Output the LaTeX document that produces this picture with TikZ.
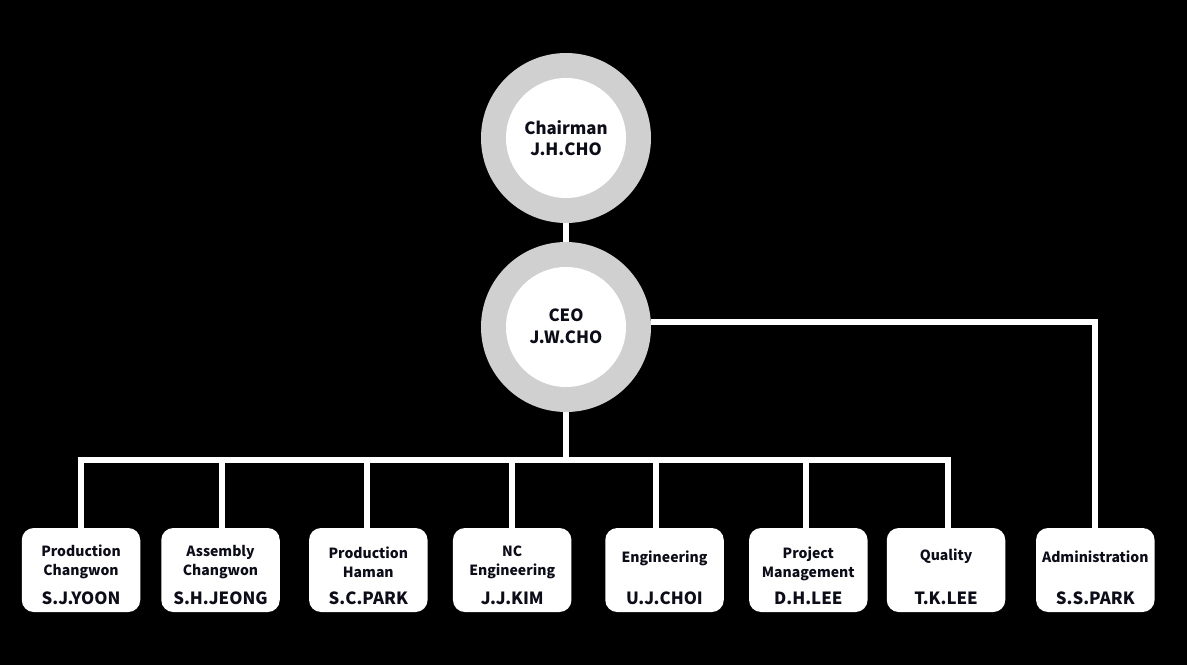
\documentclass[tikz,border=0pt]{standalone}
\usepackage{fontspec}
\setmainfont{Noto Sans CJK KR}
\usetikzlibrary{backgrounds}
\definecolor{ringgray}{HTML}{D0D0D0}
\definecolor{ink}{HTML}{0D0D1A}
\begin{document}
\begin{tikzpicture}[x=1pt,y=-1pt,
  conn/.style={draw=white, line width=6pt},
  ring/.style={circle, fill=ringgray, minimum size=170pt, inner sep=0pt},
  core/.style={circle, fill=white, minimum size=120pt, inner sep=0pt},
  box/.style={rounded corners=12pt, fill=white, minimum width=118.5pt, minimum height=84pt, inner sep=0pt},
  ttl/.style={font=\bfseries\fontsize{14}{16}\selectfont, text=ink, anchor=base, inner sep=0pt},
  nm/.style={font=\bfseries\fontsize{16.8}{19}\selectfont, text=ink, anchor=base, inner sep=0pt},
  big/.style={font=\bfseries\fontsize{16.8}{19}\selectfont, text=ink, anchor=base, inner sep=0pt}]
\useasboundingbox (0,0) rectangle (1187,665);

% circles
\node[ring] (chair) at (566,138) {};
\node[core] (chairin) at (566,138) {};
\node[big] (chairt) at (566,134) {Chairman};
\node[big] (chairn) at (566,155.7) {J.H.CHO};

\node[ring] (ceo) at (566,327) {};
\node[core] (ceoin) at (566,327) {};
\node[big] (ceot) at (566,321.7) {CEO};
\node[big] (ceon) at (566,343.7) {J.W.CHO};

% boxes
\node[box] (b1) at (81,570) {};
\node[box] (b2) at (220.5,570) {};
\node[box] (b3) at (368.3,570) {};
\node[box] (b4) at (512.2,570) {};
\node[box] (b5) at (664.5,570) {};
\node[box] (b6) at (808.3,570) {};
\node[box] (b7) at (946,570) {};
\node[box] (b8) at (1095.3,570) {};

\node[ttl] (b1a) at (81,556) {Production};
\node[ttl] (b1b) at (81,575) {Changwon};
\node[nm]  (b1n) at (81,604) {S.J.YOON};

\node[ttl] (b2a) at (220.5,556) {Assembly};
\node[ttl] (b2b) at (220.5,575) {Changwon};
\node[nm]  (b2n) at (220.5,604) {S.H.JEONG};

\node[ttl] (b3a) at (368.3,558) {Production};
\node[ttl] (b3b) at (368.3,577) {Haman};
\node[nm]  (b3n) at (368.3,604) {S.C.PARK};

\node[ttl] (b4a) at (512.2,556) {NC};
\node[ttl] (b4b) at (512.2,575) {Engineering};
\node[nm]  (b4n) at (512.2,604) {J.J.KIM};

\node[ttl] (b5a) at (664.5,562) {Engineering};
\node[nm]  (b5n) at (664.5,604) {U.J.CHOI};

\node[ttl] (b6a) at (808.3,558) {Project};
\node[ttl] (b6b) at (808.3,577) {Management};
\node[nm]  (b6n) at (808.3,604) {D.H.LEE};

\node[ttl] (b7a) at (946,560) {Quality};
\node[nm]  (b7n) at (946,604) {T.K.LEE};

\node[ttl] (b8a) at (1095.3,562.5) {Administration};
\node[nm]  (b8n) at (1095.3,604) {S.S.PARK};

\coordinate (bus) at (566,460);

\begin{scope}[on background layer]
  \fill[black] (0,0) rectangle (1187,665);
  \draw[conn] (chair.south) -- (ceo.north);
  \draw[conn] (ceo.south) -- (bus);
  \draw[conn] (b1.north) |- (bus) -| ([xshift=2pt]b7.north);
  \draw[conn] ([xshift=1.5pt]b2.north) -- ([xshift=1.5pt]b2.north |- bus);
  \draw[conn] ([xshift=-1pt]b3.north) -- ([xshift=-1pt]b3.north |- bus);
  \draw[conn] (b4.north) -- (b4.north |- bus);
  \draw[conn] ([xshift=-8.5pt]b5.north) -- ([xshift=-8.5pt]b5.north |- bus);
  \draw[conn] ([xshift=-2pt]b6.north) -- ([xshift=-2pt]b6.north |- bus);
  \draw[conn] ([yshift=5pt]ceo.east) -| (b8.north);
\end{scope}
\end{tikzpicture}
\end{document}
